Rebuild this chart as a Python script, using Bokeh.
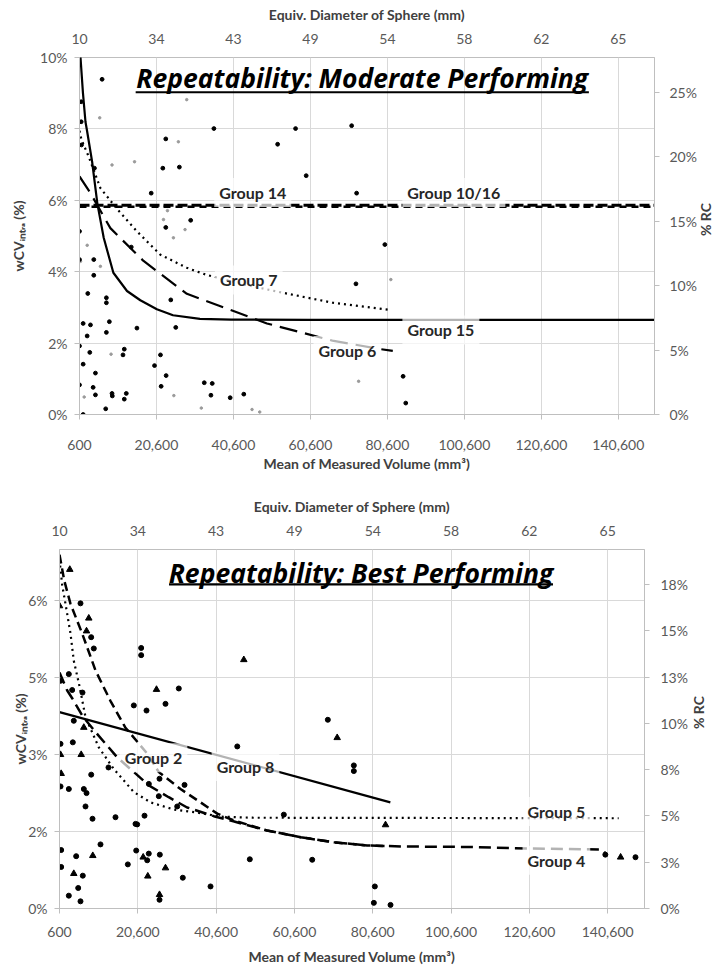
import math
from bokeh.plotting import figure
from bokeh.models import (Range1d, LinearAxis, FixedTicker, NumeralTickFormatter,
                          Label, BoxAnnotation)
from bokeh.embed import file_html
from bokeh.resources import INLINE

FONT = "Lato"
TITLE_FONT = "Open Sans"
RC_FACTOR = 2.77

# ---------------- shared axis data ----------------
x_ticks = [600, 20600, 40600, 60600, 80600, 100600, 120600, 140600]
diam_labels = ["10", "34", "43", "49", "54", "58", "62", "65"]
x_max = 150000

# ---------------- top chart (moderate performing) ----------------
top_y_ticks = [0, 2, 4, 6, 8, 10]
top_y_labels = ["0%", "2%", "4%", "6%", "8%", "10%"]
top_rc_ticks = [0, 5, 10, 15, 20, 25]
top_rc_labels = ["0%", "5%", "10%", "15%", "20%", "25%"]

top_dot_x = [1117, 4480, 23020, 22250, 26550, 35520, 56740, 71310, 52080, 59500,
             72600, 19230, 29490, 23020, 600, 79940, 4310, 600, 14050, 4310,
             72430, 7585, 7585, 2750, 24320, 25610, 8360, 1550, 3450, 7585,
             15520, 2590, 600, 3270, 1550, 12240, 11900, 21640, 20090, 23110,
             4740, 600, 21810, 4140, 4740, 9050, 9130, 12760, 12240, 7410,
             1550, 33020, 35090, 34750, 39750, 43290, 84680, 85370, 6470, 1040, 1040]
top_dot_y = [7.55, 6.9, 7.72, 6.9, 6.93, 8.01, 8.01, 8.09, 7.57, 6.69,
             6.2, 6.2, 5.44, 5.24, 5.13, 4.76, 4.34, 4.34, 4.69, 3.9,
             3.66, 3.27, 3.13, 3.39, 3.21, 2.44, 2.6, 2.55, 2.51, 2.3,
             2.42, 2.2, 1.92, 1.74, 1.41, 1.83, 1.67, 1.67, 1.37, 1.09,
             1.16, 0.83, 0.79, 0.76, 0.55, 0.59, 0.52, 0.59, 0.43, 0.16,
             0.0, 0.89, 0.87, 0.54, 0.47, 0.57, 1.07, 0.32, 9.39, 8.76, 8.2]
top_faint_x = [14900, 9050, 26290, 860, 2600, 6030, 22420, 23450, 25000, 28020,
               8800, 1810, 25110, 32250, 45430, 47430, 73120, 81490, 28460, 5850]
top_faint_y = [7.08, 6.99, 7.64, 4.29, 4.74, 4.15, 5.46, 5.71, 4.95, 5.18,
               1.69, 0.49, 0.53, 0.18, 0.14, 0.07, 0.93, 3.78, 8.82, 8.31]

g15_x = [600, 860, 1500, 2150, 2600, 3880, 5250, 6890, 9400, 12940, 16400,
         20700, 24900, 31900, 40000, 60000, 100000, 150000]
g15_y = [10.4, 10.0, 9.0, 8.2, 7.92, 7.08, 5.9, 4.95, 3.97, 3.46, 3.2,
         2.95, 2.78, 2.68, 2.66, 2.65, 2.65, 2.65]
g7_x = [600, 1100, 3000, 6030, 10350, 15520, 21550, 28460, 33640, 43000,
        53450, 66390, 81050]
g7_y = [7.95, 7.7, 7.22, 6.34, 5.76, 5.13, 4.48, 4.11, 3.91, 3.65,
        3.41, 3.13, 2.93]
g6_x = [600, 3450, 8620, 17240, 28500, 40600, 49300, 66300, 77700, 82000]
g6_y = [6.67, 6.2, 5.22, 4.3, 3.38, 2.9, 2.55, 2.07, 1.85, 1.78]
g14_x = [600, 150000]
g14_y = [5.86, 5.86]
g1016_x = [600, 150000]
g1016_y = [5.82, 5.82]

# ---------------- bottom chart (best performing) ----------------
bot_y_ticks = [0, 1.5, 3, 4.5, 6]
bot_y_labels = ["0%", "2%", "3%", "5%", "6%"]
bot_rc_ticks = [0, 2.5, 5, 7.5, 10, 12.5, 15, 17.5]
bot_rc_labels = ["0%", "3%", "5%", "8%", "10%", "13%", "15%", "18%"]

bot_circ_x = [5960, 8690, 9360, 21460, 21460, 31070, 19580, 22820, 27670, 2980,
              860, 3840, 6470, 4250, 860, 4000, 8700, 860, 2980, 6810,
              7500, 7240, 9030, 14900, 20440, 22310, 13110, 23410, 25960, 30660,
              32530, 26140, 1030, 1030, 4860, 2980, 5380, 5960, 6550, 11070,
              18050, 20190, 23000, 23400, 26220, 32090, 26140, 39170, 46000, 69130,
              75770, 75770, 57890, 49200, 65140, 81130, 80880, 85140, 140000, 147700, 20010]
bot_circ_y = [5.95, 5.29, 5.07, 5.08, 4.94, 4.29, 3.96, 3.86, 3.99, 4.57,
              4.44, 4.26, 4.21, 3.66, 3.21, 3.24, 2.61, 2.38, 2.33, 2.33,
              2.25, 1.99, 1.75, 1.78, 1.64, 1.81, 2.75, 2.43, 2.19, 1.99,
              2.41, 2.53, 1.14, 0.81, 1.02, 0.25, 0.40, 0.14, 0.64, 1.25,
              0.86, 1.13, 0.94, 1.07, 1.05, 0.60, 0.17, 0.43, 3.16, 3.68,
              2.79, 2.68, 1.83, 0.96, 0.95, 0.43, 0.11, 0.07, 1.05, 1.0, 1.65]
bot_tri_x = [3230, 600, 8080, 7500, 25370, 6810, 860, 6140, 1030, 4250,
             9100, 21970, 23150, 27670, 26140, 47670, 71520, 83860, 143900]
bot_tri_y = [6.61, 5.9, 5.66, 5.41, 4.27, 3.53, 3.0, 3.0, 2.63, 0.68,
             1.03, 1.0, 0.63, 0.79, 0.27, 4.85, 3.33, 1.63, 1.0]

g8_x = [600, 85100]
g8_y = [3.83, 2.07]
g5_x = [600, 1300, 2130, 3410, 4250, 5780, 7240, 10640, 14470, 19580, 23840,
        29790, 35770, 42000, 50000, 143400]
g5_y = [6.8, 6.3, 5.94, 5.36, 4.83, 4.31, 3.73, 3.14, 2.72, 2.27, 2.07,
        1.93, 1.87, 1.79, 1.77, 1.76]
g2_x = [600, 1800, 3410, 6400, 9800, 13600, 17400, 23000, 25960, 31500, 36600,
        40900, 45000, 53600, 62200, 70700, 79200, 84000]
g2_y = [6.9, 6.4, 5.94, 5.36, 4.64, 4.05, 3.53, 3.02, 2.66, 2.33, 2.07,
        1.85, 1.72, 1.52, 1.39, 1.29, 1.23, 1.22]
g4_x = [600, 2570, 3840, 6500, 9800, 15300, 19600, 23400, 28500, 33200, 40000,
        45000, 53600, 62200, 70700, 79200, 88000, 104700, 120000, 138800, 140000]
g4_y = [4.6, 4.25, 4.1, 3.75, 3.44, 2.95, 2.66, 2.4, 2.17, 1.97, 1.8,
        1.7, 1.52, 1.39, 1.29, 1.23, 1.21, 1.2, 1.17, 1.15, 1.08]

# ---------------- styling helpers ----------------
TICK_COLOR = "#595959"
TITLE_COLOR = "#404040"
GRID = "#d9d9d9"
FRAME = "#bfbfbf"


def style_axis(ax, size="14px", standoff=8, label_standoff=6, tick_out=5):
    ax.major_label_text_font = FONT
    ax.major_label_text_font_size = size
    ax.major_label_text_color = TICK_COLOR
    ax.axis_label_text_font = FONT
    ax.axis_label_text_font_size = "14px"
    ax.axis_label_text_font_style = "bold"
    ax.axis_label_text_color = TITLE_COLOR
    ax.axis_line_color = FRAME
    ax.major_tick_line_color = FRAME
    ax.major_tick_out = tick_out
    ax.major_tick_in = 0
    ax.minor_tick_line_color = None
    ax.major_label_standoff = standoff
    ax.axis_label_standoff = label_standoff


def make_fig(width, height, ymax, bl, br, bt, bb, y_ticks, y_labels, rc_ticks, rc_labels,
             left_label_standoff, below_standoff, below_label_standoff, right_standoff,
             right_label_standoff):
    p = figure(width=width, height=height, x_range=Range1d(600, x_max),
               y_range=Range1d(0, ymax), output_backend="svg", toolbar_location=None,
               min_border_left=bl, min_border_right=br, min_border_top=bt,
               min_border_bottom=bb)
    p.outline_line_color = FRAME
    p.background_fill_color = "white"
    p.border_fill_color = "white"
    frame_w = width - bl - br
    # bottom axis
    p.xaxis.ticker = FixedTicker(ticks=x_ticks)
    p.xaxis.formatter = NumeralTickFormatter(format="0,0")
    p.xaxis.axis_label = "Mean of Measured Volume (mm³)"
    style_axis(p.xaxis[0], standoff=below_standoff, label_standoff=below_label_standoff)
    # left axis
    p.yaxis.ticker = FixedTicker(ticks=y_ticks)
    p.yaxis.major_label_overrides = {t: l for t, l in zip(y_ticks, y_labels)}
    p.yaxis.axis_label = "wCVᵢₙₜᵣₐ (%)"
    style_axis(p.yaxis[0], standoff=7, label_standoff=left_label_standoff)
    # grids
    p.xgrid.ticker = FixedTicker(ticks=x_ticks)
    p.ygrid.ticker = FixedTicker(ticks=y_ticks)
    p.xgrid.grid_line_color = GRID
    p.ygrid.grid_line_color = GRID
    # top axis: equivalent sphere diameter
    top_ax = LinearAxis(ticker=FixedTicker(ticks=x_ticks),
                        major_label_overrides={t: l for t, l in zip(x_ticks, diam_labels)},
                        axis_label="Equiv. Diameter of Sphere (mm)")
    style_axis(top_ax, standoff=14, label_standoff=8, tick_out=0)
    top_ax.axis_line_color = None
    p.add_layout(top_ax, "above")
    # right axis: % RC (repeatability coefficient = 2.77 x wCV)
    p.extra_y_ranges = {"rc": Range1d(0, ymax * RC_FACTOR)}
    rc_ax = LinearAxis(y_range_name="rc", ticker=FixedTicker(ticks=rc_ticks),
                       major_label_overrides={t: l for t, l in zip(rc_ticks, rc_labels)},
                       axis_label="% RC")
    style_axis(rc_ax, standoff=right_standoff, label_standoff=right_label_standoff)
    if "axis_label_orientation" in LinearAxis.properties():
        rc_ax.axis_label_orientation = math.pi / 2
    p.add_layout(rc_ax, "right")
    return p, frame_w


def group_label(p, x, y, text):
    p.add_layout(Label(x=x, y=y, text=text, text_align="center", text_baseline="middle",
                       text_font=FONT, text_font_size="16px", text_font_style="bold",
                       text_color="#262626", background_fill_color="white",
                       background_fill_alpha=0.7, padding=5))


def chart_title(p, x, y, text, half_px, frame_w, under_y, thick):
    p.add_layout(Label(x=x, y=y, text=text, text_align="center", text_baseline="middle",
                       text_font=TITLE_FONT, text_font_size="26.5px",
                       text_font_style="bold italic", text_color="black"))
    ux = (x_max - 600) / frame_w
    p.add_layout(BoxAnnotation(left=x - half_px * ux, right=x + half_px * ux,
                               bottom=under_y, top=under_y + thick,
                               fill_color="black", fill_alpha=1.0, line_alpha=0))


# ---------------- top figure ----------------
p1, fw1 = make_fig(725, 475, 10, 79, 70, 57, 61, top_y_ticks, top_y_labels,
                   top_rc_ticks, top_rc_labels, left_label_standoff=10, below_standoff=20,
                   below_label_standoff=2, right_standoff=10, right_label_standoff=6)
p1.scatter(top_faint_x, top_faint_y, marker="circle", size=2.5, color="#9a9a9a")
p1.scatter(top_dot_x, top_dot_y, marker="circle", size=3.8, color="black")
p1.line(g14_x, g14_y, line_color="black", line_width=3, line_dash="10 4")
p1.line(g1016_x, g1016_y, line_color="black", line_width=2.5, line_dash="7 5")
p1.line(g6_x, g6_y, line_color="black", line_width=2.2, line_dash="18 8")
p1.line(g7_x, g7_y, line_color="black", line_width=2.2, line_dash="2 4")
p1.line(g15_x, g15_y, line_color="black", line_width=2.2)
group_label(p1, 45610, 6.22, "Group 14")
group_label(p1, 97870, 6.22, "Group 10/16")
group_label(p1, 44580, 3.77, "Group 7")
group_label(p1, 94500, 2.37, "Group 15")
group_label(p1, 70190, 1.79, "Group 6")
chart_title(p1, 74070, 9.42, "Repeatability: Moderate Performing", 227, fw1, 9.0, 0.055)

# ---------------- bottom figure ----------------
p2, fw2 = make_fig(725, 492, 7.0, 59, 81, 74, 59, bot_y_ticks, bot_y_labels,
                   bot_rc_ticks, bot_rc_labels, left_label_standoff=-4, below_standoff=13,
                   below_label_standoff=8, right_standoff=11, right_label_standoff=8)
p2.scatter(bot_circ_x, bot_circ_y, marker="circle", size=5, color="black")
p2.scatter(bot_tri_x, bot_tri_y, marker="triangle", size=6.5, color="black")
p2.line(g5_x, g5_y, line_color="black", line_width=2.2, line_dash="2 4")
p2.line(g2_x, g2_y, line_color="black", line_width=2.5, line_dash="9 5")
p2.line(g4_x, g4_y, line_color="black", line_width=2.5, line_dash="12 6")
p2.line(g8_x, g8_y, line_color="black", line_width=2.2)
group_label(p2, 24610, 2.94, "Group 2")
group_label(p2, 48100, 2.77, "Group 8")
group_label(p2, 127500, 1.89, "Group 5")
group_label(p2, 127500, 0.94, "Group 4")
chart_title(p2, 77600, 6.55, "Repeatability: Best Performing", 192, fw2, 6.30, 0.04)

# two independent roots, stacked, so their frames are not aligned to each other
open("out.html", "w").write(file_html([p1, p2], INLINE))
